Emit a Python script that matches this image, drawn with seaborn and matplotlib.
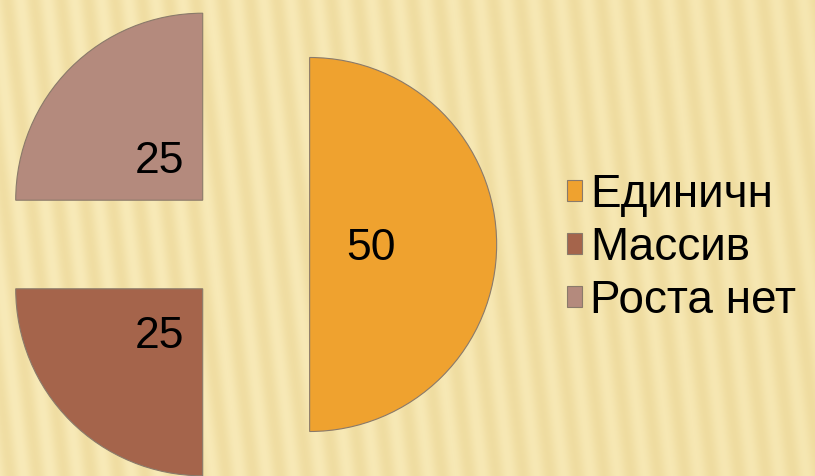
import numpy as np
import matplotlib
matplotlib.use("Agg")
import matplotlib.pyplot as plt
import seaborn as sns

# Data
categories = ["Единичн", "Массив", "Роста нет"]
values = [50, 25, 25]
colors = ["#EFA22F", "#A5644B", "#B48A7D"]

sns.set_theme(style="white")
plt.rcParams['font.family'] = ['Liberation Sans', 'DejaVu Sans']

W, H, DPI = 815, 476, 100
fig = plt.figure(figsize=(W / DPI, H / DPI), dpi=DPI)

# Decorative striped background
bg = fig.add_axes([0, 0, 1, 1], zorder=0)
yy, xx = np.mgrid[0:H, 0:W]
phase = (xx - 0.12 * yy) / 27.0 * 2 * np.pi
stripe = 0.5 + 0.5 * np.sin(phase)
light = np.array([248, 234, 184]) / 255
dark = np.array([234, 212, 146]) / 255
horiz = (xx / W)[..., None]
base_light = light * (1 - 0.35 * horiz) + np.array([242, 224, 164]) / 255 * 0.35 * horiz
img = base_light * (1 - 0.55 * stripe[..., None]) + dark * 0.55 * stripe[..., None]
bg.imshow(np.clip(img, 0, 1), aspect="auto", extent=[0, 1, 0, 1])
bg.set_axis_off()

# Pie axes: 187 px per unit
ax = fig.add_axes([0, 0, 1, 1], zorder=1)
ax.patch.set_alpha(0)
R = 187.0
cx, cy = 247.0, 244.5

wedges, texts, autotexts = ax.pie(
    values,
    colors=colors,
    startangle=90,
    counterclock=False,
    explode=[0.335, 0.335, 0.335],
    autopct=lambda p: f"{p * sum(values) / 100:.0f}",
    pctdistance=0.33,
    radius=1.0,
    wedgeprops=dict(edgecolor="#8a7a6a", linewidth=0.8),
    textprops=dict(fontsize=32, color="black"),
    frame=True,
)
for t in autotexts:
    t.set_va("center_baseline")
ax.set_xlim(-cx / R, (W - cx) / R)
ax.set_ylim(-(H - cy) / R, cy / R)
ax.set_aspect("auto")
ax.set_axis_off()

fig.legend(
    wedges, categories,
    loc="center left",
    bbox_to_anchor=(567 / W, 1 - 248 / H),
    frameon=False,
    fontsize=33,
    labelcolor="black",
    handlelength=0.33,
    handleheight=0.33,
    handletextpad=0.17,
    labelspacing=0.2,
    borderpad=0,
    borderaxespad=0,
)

fig.savefig("out.png", dpi=DPI)
